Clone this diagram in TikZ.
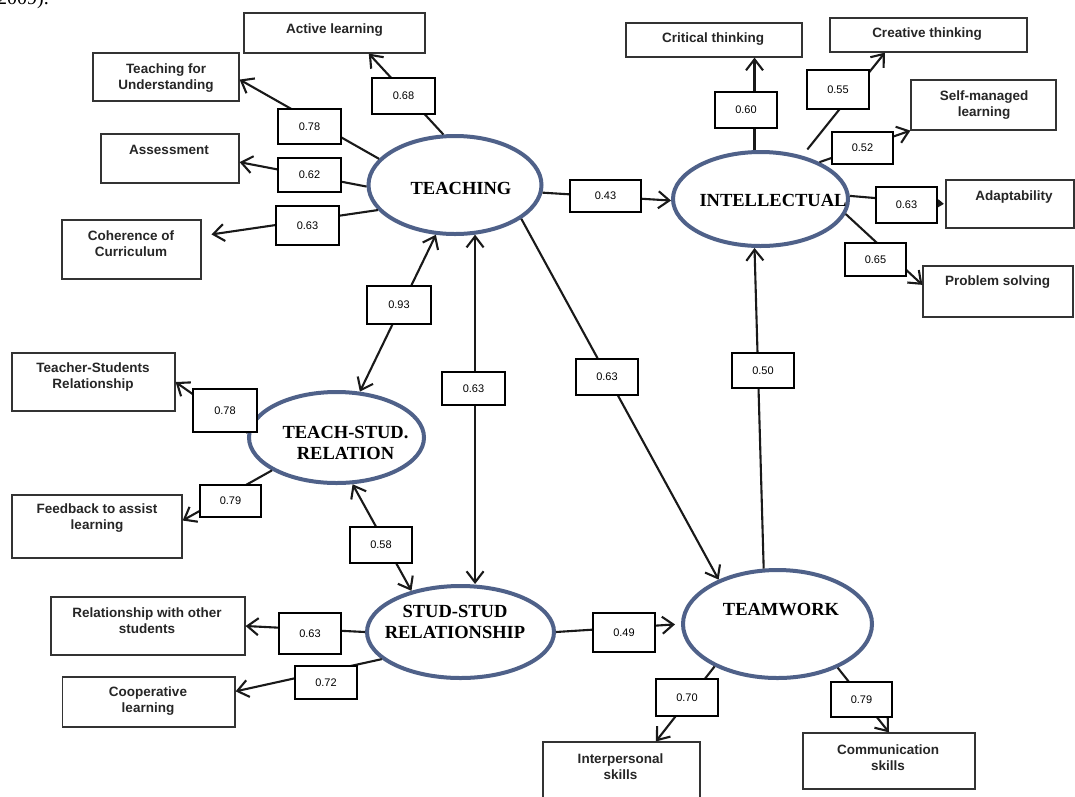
\documentclass[tikz,border=0pt]{standalone}
\usepackage{fontspec}
\setmainfont{Liberation Serif}
\setsansfont{Liberation Sans}
\usetikzlibrary{shapes.geometric,arrows.meta,calc}
\pgfdeclarelayer{fg}
\pgfsetlayers{main,fg}
\definecolor{ellc}{HTML}{4F6189}
\definecolor{boxc}{HTML}{333333}
\begin{document}
\begin{tikzpicture}[x=1pt,y=-1pt,
  ell/.style={ellipse, draw=ellc, line width=4pt, inner sep=0pt},
  indbox/.style={draw=boxc, line width=1.2pt, inner sep=0pt},
  indtxt/.style={font=\sffamily\bfseries\fontsize{13.5}{16}\selectfont, text=black!85, align=center, inner sep=0pt},
  etxt/.style={font=\rmfamily\bfseries\fontsize{18.5}{21}\selectfont, align=center, inner sep=0pt},
  lab/.style={draw=black, line width=2.6pt, fill=white, inner sep=0pt, font=\sffamily\fontsize{11}{13}\selectfont},
  conn/.style={line width=2.1pt, draw=black!90, -{Straight Barb[length=11pt,width=17pt]}},
  both/.style={line width=2.1pt, draw=black!90, {Straight Barb[length=11pt,width=17pt]}-{Straight Barb[length=11pt,width=17pt]}},
  tri/.style={line width=2.1pt, draw=black!90, -{Triangle[length=6pt,width=8pt]}},
]
\useasboundingbox[fill=white] (0,0) rectangle (1075,796);

% caption fragment at the top edge
\node[anchor=base west, inner sep=0pt, font=\rmfamily\fontsize{20}{22}\selectfont] (frag) at (-3,4) {2009).};

% latent variables
\node[ell, minimum width=173pt, minimum height=98pt] (teach) at (455,185) {};
\node[ell, minimum width=175pt, minimum height=94pt] (intel) at (760.5,199) {};
\node[ell, minimum width=175pt, minimum height=91pt] (tsr) at (336.5,437.5) {};
\node[ell, minimum width=187pt, minimum height=92pt] (ss) at (460.5,632) {};
\node[ell, minimum width=189pt, minimum height=108pt] (tw) at (777.5,624) {};

\node[etxt] (teachT) at (461,188) {TEACHING};
\node[etxt] (intelT) at (773,200) {INTELLECTUAL};
\node[etxt] (tsrT) at (345.5,442.5) {TEACH-STUD.\\RELATION};
\node[etxt] (ssT) at (455,622) {STUD-STUD\\RELATIONSHIP};
\node[etxt] (twT) at (781,610) {TEAMWORK};

% indicator boxes
\node[indbox, minimum width=181pt, minimum height=40pt] (active) at (334.5,33) {};
\node[indbox, minimum width=146pt, minimum height=48pt] (tfu) at (166,77) {};
\node[indbox, minimum width=138pt, minimum height=49pt] (assess) at (170,158.5) {};
\node[indbox, minimum width=139pt, minimum height=59pt] (coher) at (131.5,249.5) {};
\node[indbox, minimum width=176pt, minimum height=34pt] (crit) at (714,40) {};
\node[indbox, minimum width=197pt, minimum height=34pt] (creat) at (928.5,35) {};
\node[indbox, minimum width=145pt, minimum height=50pt] (selfm) at (983.5,105) {};
\node[indbox, minimum width=128pt, minimum height=48pt] (adapt) at (1010,204) {};
\node[indbox, minimum width=150pt, minimum height=51pt] (probl) at (998,291.5) {};
\node[indbox, minimum width=163pt, minimum height=58pt] (tsrind) at (93.5,382) {};
\node[indbox, minimum width=170pt, minimum height=63pt] (feed) at (97,526.5) {};
\node[indbox, minimum width=194pt, minimum height=58pt] (relat) at (148,626) {};
\node[indbox, minimum width=172.5pt, minimum height=50pt] (coop) at (148.75,702) {};
\node[indbox, minimum width=157pt, minimum height=63pt] (inter) at (621.5,773.5) {};
\node[indbox, minimum width=172pt, minimum height=56pt] (comm) at (889,761) {};

\node[indtxt] (activeT) at (334.5,30) {Active learning};
\node[indtxt] (tfuT) at (166,78) {Teaching for\\Understanding};
\node[indtxt] (assessT) at (169,150) {Assessment};
\node[indtxt] (coherT) at (131,244) {Coherence of\\Curriculum};
\node[indtxt] (critT) at (713,39) {Critical thinking};
\node[indtxt] (creatT) at (927,34) {Creative thinking};
\node[indtxt] (selfmT) at (984,105) {Self-managed\\learning};
\node[indtxt] (adaptT) at (1014,197) {Adaptability};
\node[indtxt] (problT) at (997.5,282) {Problem solving};
\node[indtxt] (tsrindT) at (93,377) {Teacher-Students\\Relationship};
\node[indtxt] (feedT) at (97,518) {Feedback to assist\\learning};
\node[indtxt] (relatT) at (147,621) {Relationship with other\\students};
\node[indtxt] (coopT) at (148,701) {Cooperative\\learning};
\node[indtxt] (interT) at (620.5,767) {Interpersonal\\skills};
\node[indtxt] (commT) at (888,757.5) {Communication\\skills};

% connectors
\draw[conn] (teach.103) -- (active.-31);
\draw[conn] (teach.161) -- (tfu.-2.4);
\draw[conn] (teach.181) -- (assess.-3.7);
\draw[conn, shorten >=10pt] (teach.198) -- (coher.11.8);
\draw[conn] (teach.-5) -- (intel.181);
\draw[both] (teach.249) -- (tsr.63.2);
\draw[both] (teach.-68.3) -- (teach.-68.3 |- ss.north);
\draw[conn] (teach.-27) -- (tw.143);

\draw[conn] (intel.97.9) -- (intel.97.9 |- crit.south);
\draw[conn, shorten <=8pt] (intel.46) -- (creat.202.8);
\draw[conn] (intel.32) -- (selfm.south west);
\draw[tri, shorten >=1.5pt] (intel.2) -- (adapt.west);
\draw[conn] (intel.-10.7) -- (probl.175);

\draw[conn] (tsr.177) -- (tsrind.east);
\draw[conn] (tsr.207.7) -- (feed.4.4);
\draw[both] (tsr.-71.6) -- (ss.140);

\draw[conn] (ss.180) -- (relat.east);
\draw[conn] (ss.199.2) -- (coop.7.9);
\draw[conn, shorten >=6pt] (ss.0) -- (tw.180);

\draw[conn] (tw.104) -- (intel.263.3);
\draw[conn] (tw.214) -- (inter.43.3);
\draw[conn] (tw.-36) -- (comm.north);

% coefficient boxes
\begin{pgfonlayer}{fg}
\node[lab, minimum width=63pt, minimum height=36pt] (l68) at (403.5,96) {0.68};
\node[lab, minimum width=63pt, minimum height=35pt] (l78) at (309.5,126.5) {0.78};
\node[lab, minimum width=63pt, minimum height=34pt] (l62) at (309.5,175) {0.62};
\node[lab, minimum width=63pt, minimum height=39pt] (l63a) at (307.5,225.5) {0.63};
\node[lab, minimum width=62pt, minimum height=36pt] (l60) at (746,110) {0.60};
\node[lab, minimum width=62pt, minimum height=39pt] (l55) at (838,89.5) {0.55};
\node[lab, minimum width=61pt, minimum height=32pt] (l52) at (862.5,148) {0.52};
\node[lab, minimum width=61pt, minimum height=36pt] (l63b) at (906.5,205) {0.63};
\node[lab, minimum width=61pt, minimum height=33pt] (l65) at (875.5,259.5) {0.65};
\node[lab, minimum width=71pt, minimum height=32pt] (l43) at (605.5,196) {0.43};
\node[lab, minimum width=64pt, minimum height=38pt] (l93) at (399,305) {0.93};
\node[lab, minimum width=63pt, minimum height=33pt] (l63c) at (473.5,388.5) {0.63};
\node[lab, minimum width=62pt, minimum height=36pt] (l63d) at (607,377) {0.63};
\node[lab, minimum width=62pt, minimum height=35pt] (l50) at (763,370.5) {0.50};
\node[lab, minimum width=64pt, minimum height=43pt] (l78b) at (225,410.5) {0.78};
\node[lab, minimum width=61pt, minimum height=32pt] (l79) at (230.5,501) {0.79};
\node[lab, minimum width=62pt, minimum height=36pt] (l58) at (381,545) {0.58};
\node[lab, minimum width=62pt, minimum height=41pt] (l63e) at (310,633.5) {0.63};
\node[lab, minimum width=62pt, minimum height=33pt] (l72) at (326,682.5) {0.72};
\node[lab, minimum width=62pt, minimum height=39pt] (l49) at (624,632.5) {0.49};
\node[lab, minimum width=62pt, minimum height=37pt] (l70) at (687,697.5) {0.70};
\node[lab, minimum width=61pt, minimum height=35pt] (l79b) at (861.5,699.5) {0.79};
\end{pgfonlayer}
\end{tikzpicture}
\end{document}
